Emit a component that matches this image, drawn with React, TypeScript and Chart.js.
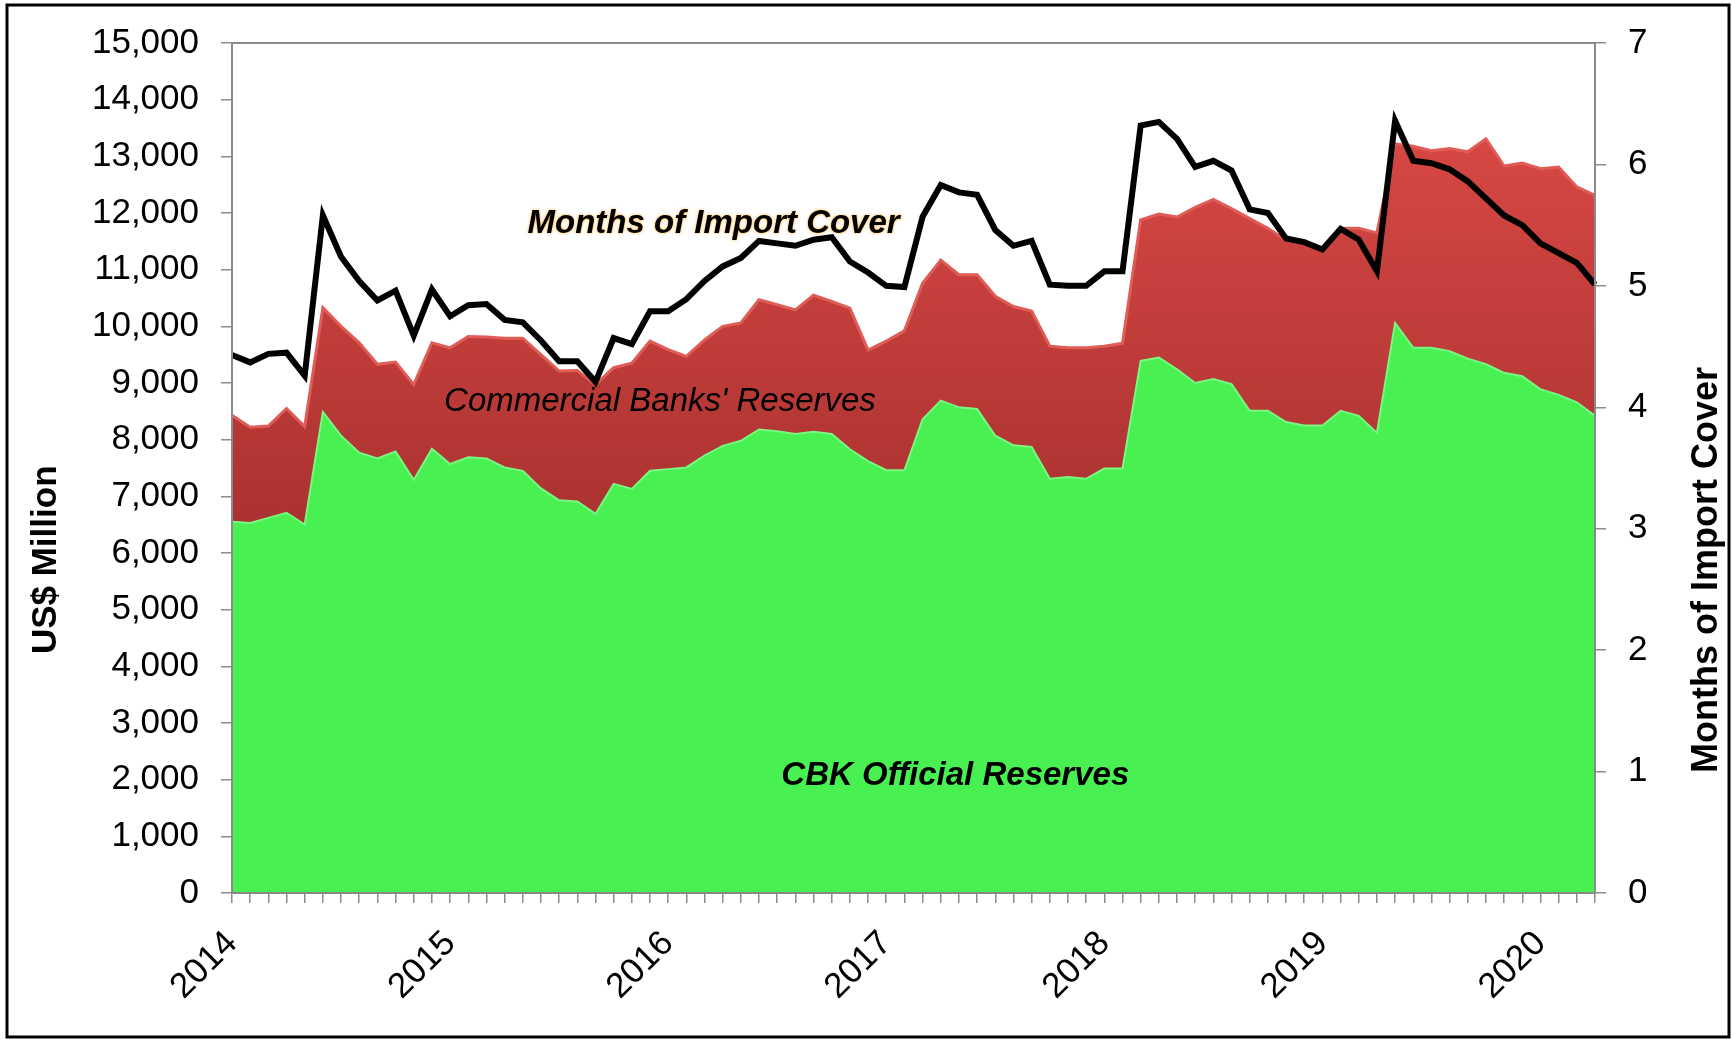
import React, { useEffect, useRef } from 'react';
import { Chart, registerables } from 'chart.js';

Chart.register(...registerables);

const FONT = "'Liberation Sans', Arial, Helvetica, sans-serif";

const years = ['2014', '2015', '2016', '2017', '2018', '2019', '2020'];
const monthNames = ['Jan', 'Feb', 'Mar', 'Apr', 'May', 'Jun', 'Jul', 'Aug', 'Sep', 'Oct', 'Nov', 'Dec'];
const monthCount = 76; // Jan 2014 - Apr 2020
const categories: string[] = years
  .flatMap((y) => monthNames.map((m) => `${m} ${y}`))
  .slice(0, monthCount);

// Tick labels shown on the x axis (one per January)
const yearTickLabels = years;

// US$ Million
const cbkOfficialReserves = [
  6550, 6530, 6620, 6710, 6500, 8490, 8070, 7770, 7670, 7790, 7290, 7840,
  7570, 7690, 7670, 7510, 7450, 7140, 6930, 6910, 6690, 7220, 7130, 7450,
  7480, 7510, 7720, 7890, 7980, 8180, 8150, 8100, 8140, 8100, 7830, 7620,
  7460, 7460, 8360, 8690, 8570, 8540, 8070, 7900, 7870, 7310, 7340, 7310,
  7490, 7490, 9390, 9450, 9240, 9000, 9070, 8980, 8510, 8510, 8310, 8250,
  8250, 8510, 8420, 8120, 10060, 9620, 9620, 9560, 9430, 9330, 9180, 9120,
  8890, 8790, 8660, 8420,
];

// US$ Million
const commercialBanksReserves = [
  1880, 1690, 1620, 1840, 1730, 1840, 1930, 1940, 1660, 1580, 1680, 1870,
  2050, 2130, 2140, 2280, 2340, 2360, 2280, 2310, 2280, 2050, 2220, 2290,
  2110, 1960, 2040, 2110, 2080, 2290, 2230, 2190, 2410, 2340, 2490, 1960,
  2280, 2460, 2400, 2480, 2340, 2370, 2460, 2450, 2400, 2340, 2280, 2310,
  2160, 2210, 2490, 2530, 2690, 3100, 3170, 3100, 3390, 3220, 3210, 3220,
  3100, 3220, 3310, 3530, 3160, 3560, 3480, 3580, 3650, 3980, 3650, 3760,
  3890, 4020, 3800, 3890,
];

// Months of import cover (right axis)
const importCover = [
  4.43, 4.37, 4.44, 4.45, 4.26, 5.58, 5.24, 5.04, 4.88, 4.96, 4.59, 4.97,
  4.75, 4.84, 4.85, 4.72, 4.70, 4.55, 4.38, 4.38, 4.21, 4.57, 4.52, 4.79,
  4.79, 4.89, 5.04, 5.16, 5.23, 5.37, 5.35, 5.33, 5.38, 5.40, 5.20, 5.11,
  5.00, 4.99, 5.57, 5.83, 5.77, 5.75, 5.46, 5.33, 5.37, 5.01, 5.00, 5.00,
  5.12, 5.12, 6.32, 6.35, 6.21, 5.98, 6.03, 5.95, 5.63, 5.60, 5.39, 5.36,
  5.30, 5.47, 5.38, 5.12, 6.36, 6.03, 6.01, 5.96, 5.86, 5.72, 5.58, 5.50,
  5.35, 5.27, 5.19, 5.01,
];

const leftTicksMax = 15000;
const rightTicksMax = 7;

export default function App() {
  const ref = useRef<HTMLCanvasElement | null>(null);

  useEffect(() => {
    document.body.style.margin = '0';
    document.body.style.overflow = 'hidden';
    const canvas = ref.current;
    if (!canvas) return;

    const decor = {
      id: 'decor',
      beforeDraw(chart: any) {
        const c = chart.ctx;
        c.save();
        c.fillStyle = '#ffffff';
        c.fillRect(0, 0, chart.width, chart.height);
        c.restore();
      },
      afterDatasetsDraw(chart: any) {
        const c = chart.ctx;
        const a = chart.chartArea;
        c.save();
        c.strokeStyle = '#8a8a8a';
        c.lineWidth = 2;
        c.strokeRect(a.left, a.top, a.right - a.left, a.bottom - a.top);
        c.restore();
      },
      afterDraw(chart: any) {
        const c = chart.ctx;
        const a = chart.chartArea;
        const xs = chart.scales.x;
        const ys = chart.scales.y;
        c.save();
        // outer frame
        c.strokeStyle = '#000';
        c.lineWidth = 3;
        c.strokeRect(7, 5, chart.width - 10, chart.height - 7);

        // axis titles
        c.fillStyle = '#000';
        c.font = `bold 35px ${FONT}`;
        c.textAlign = 'center';
        c.textBaseline = 'middle';
        c.save();
        c.translate(46, a.top + (a.bottom - a.top) * 0.608);
        c.rotate(-Math.PI / 2);
        c.fillText('US$ Million', 0, 0);
        c.restore();
        c.save();
        c.font = `bold 36px ${FONT}`;
        c.translate(1707, a.top + (a.bottom - a.top) * 0.62);
        c.rotate(-Math.PI / 2);
        c.fillText('Months of Import Cover', 0, 0);
        c.restore();

        // series annotations
        c.save();
        c.font = `italic bold 33px ${FONT}`;
        c.shadowColor = 'rgba(255,160,0,0.9)';
        c.shadowBlur = 3;
        c.fillText('Months of Import Cover', xs.getPixelForValue(26.5), ys.getPixelForValue(11800));
        c.restore();
        c.font = `italic 33px ${FONT}`;
        c.fillText("Commercial Banks' Reserves", xs.getPixelForValue(23.55), ys.getPixelForValue(8660));
        c.font = `italic bold 33px ${FONT}`;
        c.fillText('CBK Official Reserves', xs.getPixelForValue(39.8), ys.getPixelForValue(2070));
        c.restore();
      },
    };

    const redFill = (context: any) => {
      const chart = context.chart;
      const ys = chart.scales && chart.scales.y;
      if (!chart.chartArea || !ys) return 'rgb(196,60,58)';
      const g = chart.ctx.createLinearGradient(0, ys.getPixelForValue(13500), 0, ys.getPixelForValue(6500));
      g.addColorStop(0, 'rgb(216,72,68)');
      g.addColorStop(1, 'rgb(170,50,48)');
      return g;
    };

    const tickFont = { family: FONT, size: 35 };

    const chart = new Chart(canvas, {
      type: 'line',
      data: {
        labels: categories,
        datasets: [
          {
            label: 'CBK Official Reserves',
            data: cbkOfficialReserves,
            yAxisID: 'y',
            fill: 'origin',
            backgroundColor: 'rgb(72,240,82)',
            borderColor: 'rgb(120,248,128)',
            borderWidth: 2,
            pointRadius: 0,
            tension: 0,
          },
          {
            label: "Commercial Banks' Reserves",
            data: commercialBanksReserves,
            yAxisID: 'y',
            fill: '-1',
            backgroundColor: redFill,
            borderColor: 'rgb(224,92,86)',
            borderWidth: 3,
            pointRadius: 0,
            tension: 0,
          },
          {
            label: 'Months of Import Cover',
            data: importCover,
            yAxisID: 'y1',
            fill: false,
            borderColor: '#000000',
            borderWidth: 6,
            pointRadius: 0,
            tension: 0,
            order: -1,
          },
        ],
      },
      options: {
        responsive: false,
        animation: false,
        devicePixelRatio: 1,
        layout: { padding: { top: 39, left: 0, right: 0, bottom: 0 } },
        plugins: {
          legend: { display: false },
          tooltip: { enabled: false },
        },
        scales: {
          x: {
            type: 'category',
            offset: false,
            grid: {
              display: true,
              drawOnChartArea: false,
              drawTicks: true,
              tickLength: 10,
              color: '#8c8c8c',
              lineWidth: 1.5,
            },
            border: { display: false },
            ticks: {
              autoSkip: false,
              minRotation: 45,
              maxRotation: 45,
              padding: 20,
              color: '#000',
              font: tickFont,
              callback: (_v: any, i: number) => (i % 12 === 0 ? yearTickLabels[i / 12] : ''),
            },
            afterFit: (s: any) => {
              s.height = 146;
            },
          },
          y: {
            type: 'linear',
            position: 'left',
            stacked: true,
            min: 0,
            max: leftTicksMax,
            grid: {
              drawOnChartArea: false,
              drawTicks: true,
              tickLength: 11,
              color: '#8c8c8c',
              lineWidth: 1.5,
            },
            border: { display: false },
            ticks: {
              stepSize: 1000,
              padding: 22,
              color: '#000',
              font: tickFont,
              callback: (v: any) => Number(v).toLocaleString('en-US'),
            },
            afterFit: (s: any) => {
              s.width = 232;
            },
          },
          y1: {
            type: 'linear',
            position: 'right',
            min: 0,
            max: rightTicksMax,
            grid: {
              drawOnChartArea: false,
              drawTicks: true,
              tickLength: 11,
              color: '#8c8c8c',
              lineWidth: 1.5,
            },
            border: { display: false },
            ticks: {
              stepSize: 1,
              padding: 22,
              color: '#000',
              font: tickFont,
            },
            afterFit: (s: any) => {
              s.width = 137;
            },
          },
        },
      },
      plugins: [decor],
    });

    return () => chart.destroy();
  }, []);

  return (
    <div style={{ width: 1732, height: 1039, position: 'relative' }}>
      <canvas ref={ref} width={1732} height={1039} style={{ display: 'block', width: 1732, height: 1039 }} />
    </div>
  );
}
